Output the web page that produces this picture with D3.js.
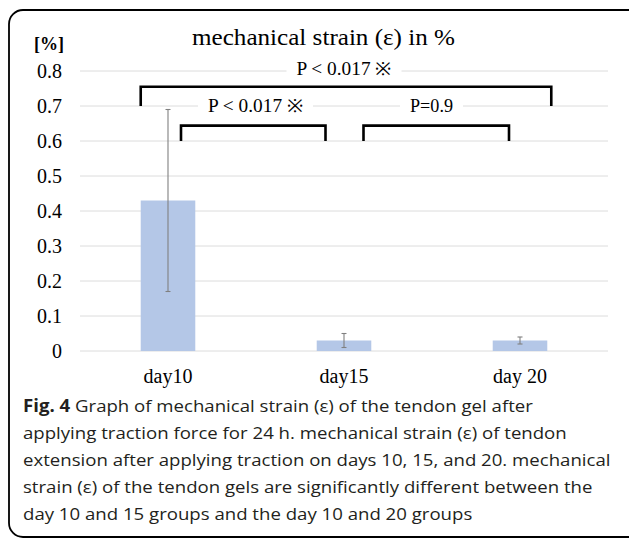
<!DOCTYPE html>
<html>
<head>
<meta charset="utf-8">
<script src="https://cdn.jsdelivr.net/npm/d3@7"></script>
<style>
  html, body { margin: 0; padding: 0; background: #fff; }
  svg { display: block; }
</style>
</head>
<body>
<svg id="chart" width="629" height="539"></svg>
<script>
// ---- data ----
const categories = ["day10", "day15", "day 20"];
const means = [0.43, 0.03, 0.03];
const errors = [0.26, 0.02, 0.01];
const yTicks = [0, 0.1, 0.2, 0.3, 0.4, 0.5, 0.6, 0.7, 0.8];
const bracketFrom = ["day10", "day10", "day15"];
const bracketTo = ["day 20", "day15", "day 20"];
const bracketLabels = ["P < 0.017 \u203B", "P < 0.017 \u203B", "P=0.9"];
const bracketTop = [0.755, 0.644, 0.644];
const bracketBase = [0.70, 0.60, 0.60];
const titleText = "mechanical strain (\u03B5) in %";
const unitText = "[%]";
const captionBold = "Fig. 4";
const captionLines = [
  " Graph of mechanical strain (\u03B5) of the tendon gel after",
  "applying traction force for 24 h. mechanical strain (\u03B5) of tendon",
  "extension after applying traction on days 10, 15, and 20. mechanical",
  "strain (\u03B5) of the tendon gels are significantly different between the",
  "day 10 and 15 groups and the day 10 and 20 groups"
];

// ---- layout ----
const svg = d3.select("#chart");
const serif = "'Liberation Serif', 'Times New Roman', serif";
const plot = { left: 80, right: 608, top: 71, bottom: 351 };

// frame
svg.append("rect")
  .attr("x", 9).attr("y", 10)
  .attr("width", 640).attr("height", 527)
  .attr("rx", 14).attr("ry", 14)
  .attr("fill", "none").attr("stroke", "#000").attr("stroke-width", 1.8);

const x = d3.scaleBand().domain(categories).range([plot.left, plot.right]).paddingInner(0.69).paddingOuter(0.345);
const y = d3.scaleLinear().domain([0, 0.8]).range([plot.bottom, plot.top]);

// gridlines
svg.append("g").selectAll("line").data(yTicks).join("line")
  .attr("x1", plot.left).attr("x2", plot.right)
  .attr("y1", d => y(d)).attr("y2", d => y(d))
  .attr("stroke", "#dcdcdc").attr("stroke-width", 1);

// y axis labels
const yAxis = d3.axisLeft(y).tickValues(yTicks).tickSize(0).tickPadding(0)
  .tickFormat(d => d === 0 ? "0" : d.toFixed(1));
const gy = svg.append("g").attr("transform", "translate(62,0)").call(yAxis);
gy.select(".domain").remove();
gy.selectAll("text").attr("font-family", serif).attr("font-size", 20).attr("fill", "#000").attr("dy", "0.32em");

// x axis labels
const xAxis = d3.axisBottom(x).tickSize(0).tickPadding(0);
const gx = svg.append("g").attr("transform", "translate(0,369)").call(xAxis);
gx.select(".domain").remove();
gx.selectAll("text").attr("font-family", serif).attr("font-size", 20).attr("fill", "#000").attr("dy", "0.7em");

// bars
svg.append("g").selectAll("rect").data(categories).join("rect")
  .attr("x", d => x(d)).attr("width", x.bandwidth())
  .attr("y", (d, i) => y(means[i])).attr("height", (d, i) => y(0) - y(means[i]))
  .attr("fill", "#b4c7e7");

// error bars
const eg = svg.append("g").attr("stroke", "#808080").attr("stroke-width", 1.1);
categories.forEach((c, i) => {
  const cx = x(c) + x.bandwidth() / 2;
  const lo = y(means[i] - errors[i]), hi = y(means[i] + errors[i]);
  eg.append("line").attr("x1", cx).attr("x2", cx).attr("y1", lo).attr("y2", hi);
  eg.append("line").attr("x1", cx - 2.5).attr("x2", cx + 2.5).attr("y1", lo).attr("y2", lo);
  eg.append("line").attr("x1", cx - 2.5).attr("x2", cx + 2.5).attr("y1", hi).attr("y2", hi);
});

// brackets
const bw = x.bandwidth();
const bracketX = [
  [x(bracketFrom[0]), x(bracketTo[0]) + bw + 4],
  [x(bracketFrom[1]) + bw / 2 + 13, x(bracketTo[1]) + bw / 2 - 18.5],
  [x(bracketFrom[2]) + bw / 2 + 19.5, x(bracketTo[2]) + bw / 2 - 11]
];
const labelX = [344, 255.5, 431.5];
const labelY = [75, 112, 112];
const labelW = [95, 95, 43];
const bg = svg.append("g");
bracketLabels.forEach((lab, i) => {
  const [x1, x2] = bracketX[i];
  bg.append("path")
    .attr("d", `M${x1},${y(bracketBase[i])}V${y(bracketTop[i])}H${x2}V${y(bracketBase[i])}`)
    .attr("fill", "none").attr("stroke", "#000").attr("stroke-width", 2.6);
  bg.append("rect")
    .attr("x", labelX[i] - labelW[i] / 2 - 10).attr("width", labelW[i] + 20)
    .attr("y", labelY[i] - 16).attr("height", 22)
    .attr("fill", "#fff");
  bg.append("text")
    .attr("x", labelX[i]).attr("y", labelY[i])
    .attr("text-anchor", "middle")
    .attr("textLength", labelW[i]).attr("lengthAdjust", "spacingAndGlyphs")
    .attr("font-family", serif).attr("font-size", 18).attr("fill", "#000")
    .text(lab);
});

// title
svg.append("text")
  .attr("x", 323.5).attr("y", 45).attr("text-anchor", "middle")
  .attr("textLength", 263).attr("lengthAdjust", "spacingAndGlyphs")
  .attr("font-family", serif).attr("font-size", 23).attr("fill", "#000")
  .text(titleText);

// unit
svg.append("text")
  .attr("x", 34).attr("y", 50)
  .attr("font-family", serif).attr("font-size", 18).attr("font-weight", "bold").attr("fill", "#000")
  .text(unitText);

// caption
const cap = svg.append("g")
  .attr("transform", "translate(23,0) scale(1.095,1)")
  .attr("font-family", "'Open Sans', 'Noto Sans', sans-serif")
  .attr("font-size", 17).attr("fill", "#231f20");
captionLines.forEach((line, i) => {
  const t = cap.append("text").attr("x", 0).attr("y", 412 + i * 27);
  if (i === 0) {
    t.append("tspan").attr("font-weight", "bold").text(captionBold);
  }
  t.append("tspan").text(line);
});
</script>
</body>
</html>
